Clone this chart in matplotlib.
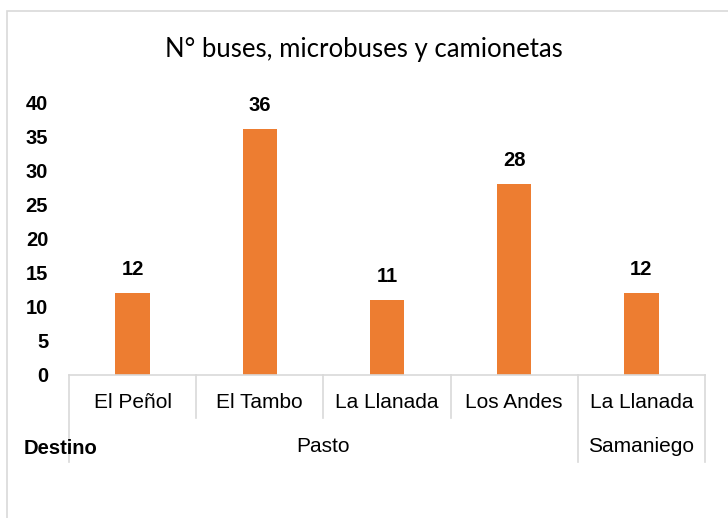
import matplotlib

matplotlib.use("Agg")

import matplotlib.pyplot as plt
from matplotlib.patches import Rectangle
from matplotlib.transforms import blended_transform_factory

# datos
destinos = ["El Peñol", "El Tambo", "La Llanada", "Los Andes", "La Llanada"]
origenes = ["Pasto", "Samaniego"]
origen_spans = [(0, 3), (4, 4)]
vehiculos = [12, 36, 11, 28, 12]
y_ticks = [0, 5, 10, 15, 20, 25, 30, 35, 40]

narrow = ["Liberation Sans Narrow", "Liberation Sans", "DejaVu Sans"]
bar_color = "#ED7D31"
line_color = "#d9d9d9"

fig = plt.figure(figsize=(7.28, 5.18), dpi=100)
W, H = 728, 518

# marco del gráfico
fig.patches.append(Rectangle((7 / W, -0.1), 1.2, 1 - 11 / H + 0.1,
                             transform=fig.transFigure, fill=False,
                             edgecolor=line_color, linewidth=1.2))

ax = fig.add_axes([69 / W, 1 - 375 / H, (705 - 69) / W, (375 - 102) / H])
x = list(range(len(destinos)))
ax.bar(x, vehiculos, width=0.27, color=bar_color, zorder=2)
for xi, v in zip(x, vehiculos):
    ax.annotate(str(v), (xi, v), xytext=(0, 10), textcoords="offset points",
                ha="center", va="bottom", fontsize=14.5, fontweight="bold",
                family=narrow)

ax.set_xlim(-0.5, len(destinos) - 0.5)
ax.set_ylim(0, 40)
ax.set_yticks(y_ticks)
ax.set_yticklabels([str(t) for t in y_ticks], fontsize=14.5, fontweight="bold",
                   family=narrow)
ax.tick_params(axis="y", length=0, pad=15)
ax.set_xticks([])
for s in ["top", "right", "left"]:
    ax.spines[s].set_visible(False)
ax.spines["bottom"].set_color(line_color)
ax.spines["bottom"].set_linewidth(1.2)

# eje de categorías en dos niveles
tr = blended_transform_factory(ax.transData, fig.transFigure)
y_axis = 1 - 375 / H
y_lvl1 = 1 - 418 / H
y_lvl2 = 1 - 462 / H
for i in range(len(destinos) + 1):
    edge = i - 0.5
    is_group = any(edge == a - 0.5 or edge == b + 0.5 for a, b in origen_spans)
    y_end = y_lvl2 if is_group else y_lvl1
    ax.plot([edge, edge], [y_axis, y_end], transform=tr, color=line_color,
            linewidth=1.2, clip_on=False)

for xi, name in zip(x, destinos):
    ax.text(xi, 1 - 403 / H, name, transform=tr, ha="center", va="center",
            fontsize=15, family=narrow)
for (a, b), name in zip(origen_spans, origenes):
    ax.text((a + b) / 2, 1 - 446 / H, name, transform=tr, ha="center",
            va="center", fontsize=15, family=narrow)

fig.text(24 / W, 1 - 449 / H, "Destino", ha="left", va="center",
         fontsize=14.5, fontweight="bold", family=narrow)
fig.text(0.5, 1 - 50 / H, "N° buses, microbuses y camionetas", ha="center",
         va="center", fontsize=18.5, family=["Lato", "DejaVu Sans"])

fig.savefig("out.png", dpi=100)
